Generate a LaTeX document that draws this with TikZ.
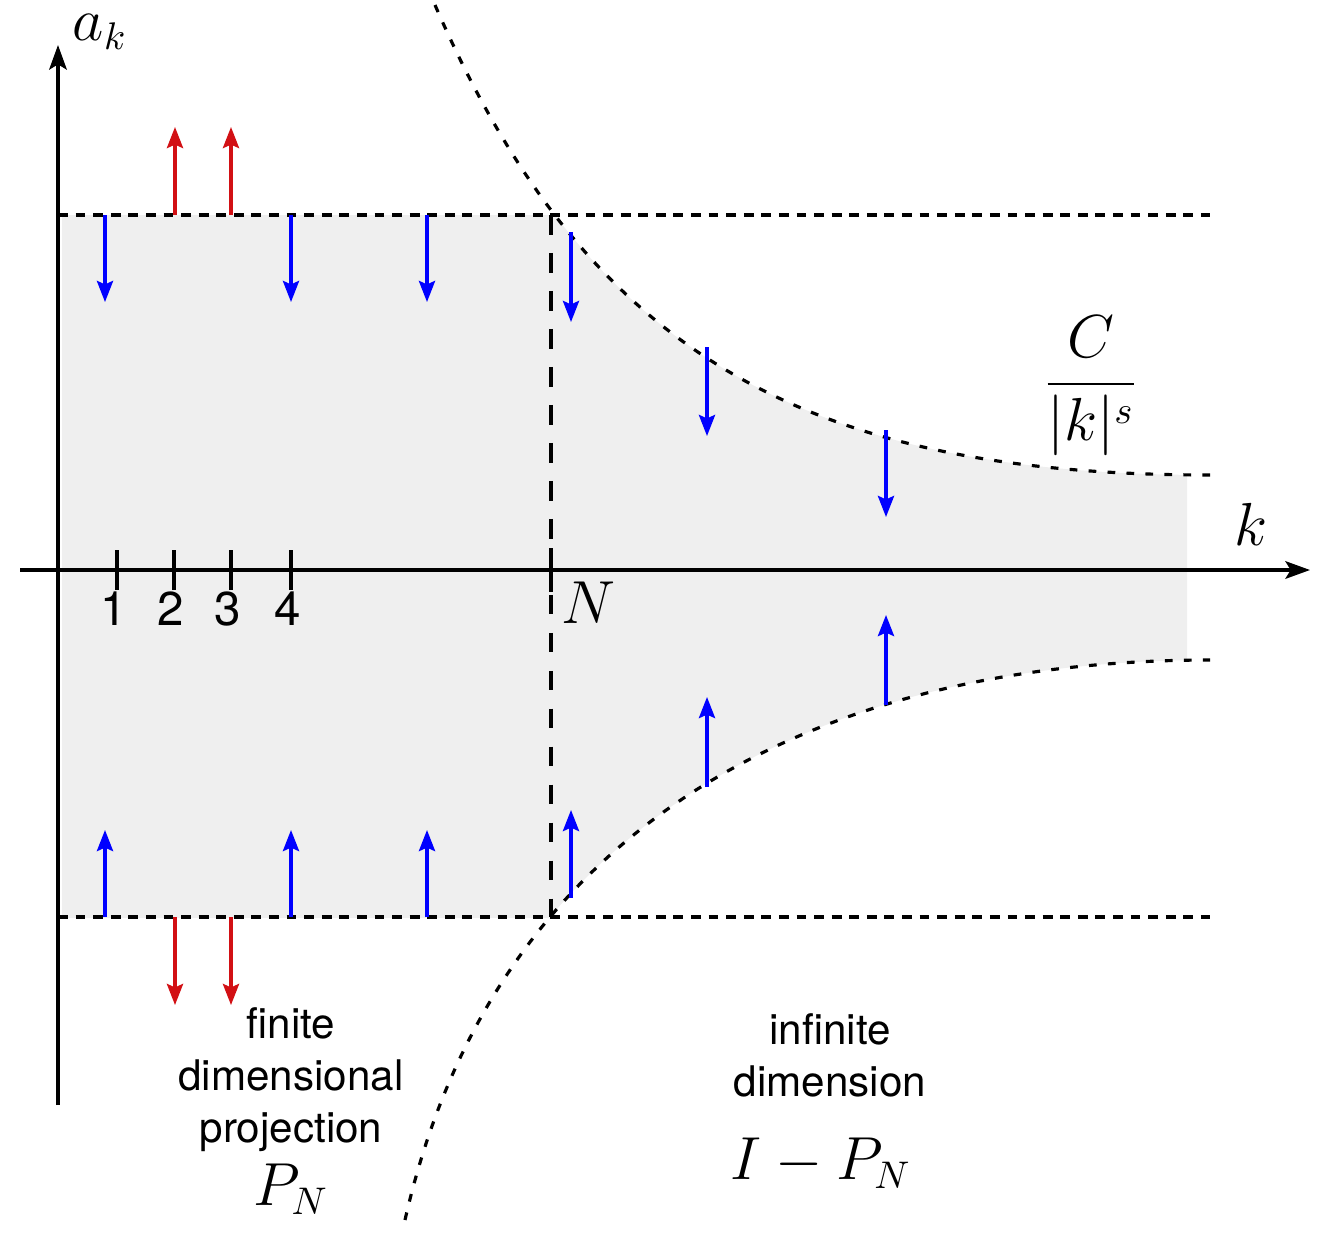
\documentclass[tikz,border=0pt]{standalone}
\usepackage{amsmath,amssymb}
\usepackage{fontspec}
\setsansfont{TeX Gyre Heros}
\usetikzlibrary{arrows.meta,positioning}
\definecolor{bandgray}{RGB}{239,239,239}
\definecolor{arrowred}{RGB}{210,16,20}

\begin{document}
\begin{tikzpicture}[x=0.01cm,y=-0.01cm,
	axis line/.style={line width=0.9pt,-{Stealth[length=7pt,width=5pt,inset=1.5pt]}},
	coef arrow/.style={line width=0.9pt,-{Stealth[length=6pt,width=4.6pt,inset=1pt]}},
	bound line/.style={line width=0.9pt,dash pattern=on 2.8pt off 2.2pt},
	cut line/.style={line width=0.9pt,dash pattern=on 5.6pt off 5.2pt},
	decay line/.style={line width=0.9pt,dash pattern=on 2.2pt off 3.2pt},
	math label/.style={font=\fontsize{16}{19}\selectfont},
	region text/.style={font=\sffamily\fontsize{12}{14.8}\selectfont,align=center},
	tick label/.style={font=\sffamily\fontsize{13.5}{15}\selectfont}]
	\useasboundingbox (0,0) rectangle (1333,1233);
	% shaded band
	\begin{scope}
		\clip (62,215) rectangle (1187,917);
		\fill[bandgray] (58,5) -- (435,5) .. controls (585,350) and (800,475) .. (1210,475)
		-- (1210,660) .. controls (850,660) and (500,800) .. (405,1220) -- (58,1220) -- cycle;
	\end{scope}
	\coordinate (ybot) at (58,1105);
	\coordinate (ytop) at (58,45);
	\coordinate (xleft) at (20,570);
	\coordinate (xright) at (1310,570);
	\coordinate (cuttop) at (551,215);
	\coordinate (cutbot) at (551,917);
	% bounds
	\draw[bound line] (58,215) -- (1210,215);
	\draw[bound line] (58,917) -- (1210,917);
	\draw[cut line] (cuttop) -- (cutbot);
	\draw[decay line] (435,5) .. controls (585,350) and (800,475) .. (1210,475);
	\draw[decay line] (405,1220) .. controls (500,800) and (850,660) .. (1210,660);
	% axes
	\draw[axis line] (ybot) -- (ytop);
	\draw[axis line] (xleft) -- (xright);
	\foreach \x/\n in {117/1,174/2,231/3,291/4}{
		\draw[line width=0.9pt] (\x,550) -- (\x,590);
		\node[tick label,anchor=base] at (\x-3,625) {\n};
	}
	\draw[line width=0.9pt] (551,548) -- (551,592);
	% coefficients
	\foreach \x in {105,291,427}{
		\draw[coef arrow,blue] (\x,215) -- (\x,302);
		\draw[coef arrow,blue] (\x,917) -- (\x,830);
	}
	\foreach \x in {175,231}{
		\draw[coef arrow,arrowred] (\x,215) -- (\x,127);
		\draw[coef arrow,arrowred] (\x,917) -- (\x,1005);
	}
	\foreach \x/\ya/\yb in {571/232/322,707/347/436,886/430/517}
		\draw[coef arrow,blue] (\x,\ya) -- (\x,\yb);
	\foreach \x/\ya/\yb in {571/898/810,707/787/697,886/705/615}
		\draw[coef arrow,blue] (\x,\ya) -- (\x,\yb);
	% labels
	\node[math label,anchor=base,inner sep=0pt] (ak) at (100,40) {$a_k$};
	\node[math label,anchor=base] (klab) at (1251,545) {$k$};
	\node[math label,anchor=base] (Nlab) at (588,623) {$N$};
	\node[math label,anchor=base] (decay) at (1091,399) {$\dfrac{C}{|k|^s}$};
	\node[region text] (finite) at (291,1080) {finite\\dimensional\\projection};
	\node[math label,anchor=base] (PN) at (291,1205) {$P_N$};
	\node[region text] (infinite) at (830,1055) {infinite\\dimension};
	\node[math label,anchor=base] (IPN) at (821,1179) {$I-P_N$};
\end{tikzpicture}
\end{document}
